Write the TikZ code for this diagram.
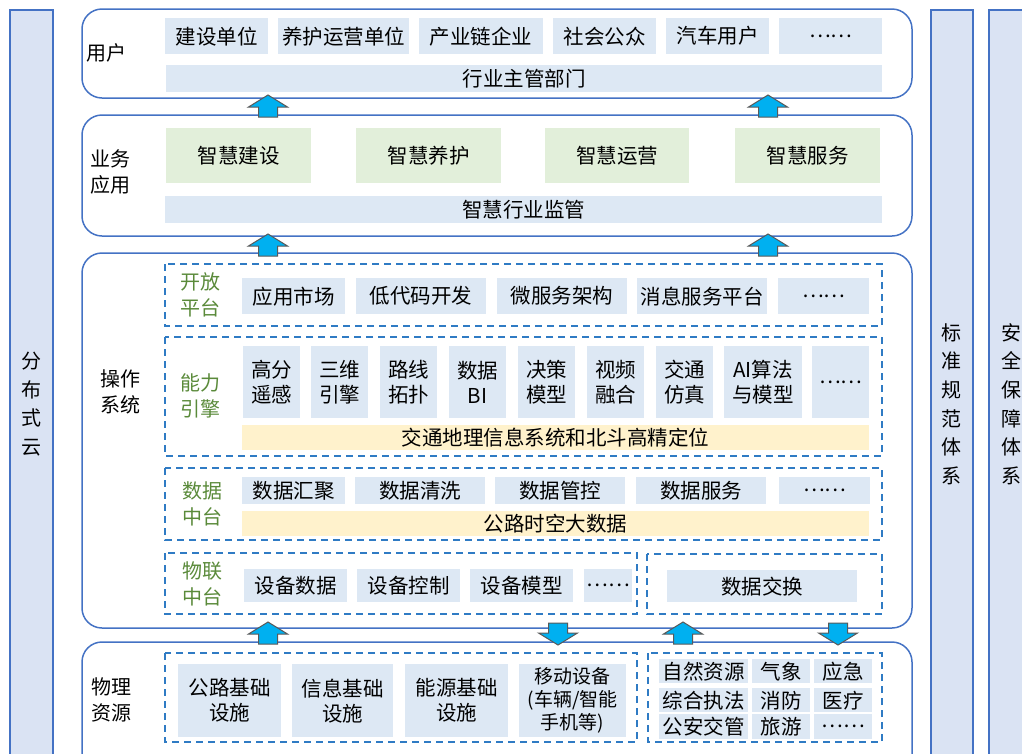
\documentclass[tikz,border=0pt]{standalone}
\usepackage{fontspec}
\setmainfont{Noto Sans CJK SC}
\definecolor{layerblue}{HTML}{4472C4}
\definecolor{sidefill}{HTML}{DAE3F3}
\definecolor{itemblue}{HTML}{DDE8F4}
\definecolor{itemgreen}{HTML}{E2EFDA}
\definecolor{itemyellow}{HTML}{FFF2CC}
\definecolor{dashblue}{HTML}{2F7BC4}
\definecolor{labelgreen}{HTML}{5A8A3A}
\definecolor{arrowfill}{HTML}{00B0F0}
\tikzset{
  layer/.style={draw=layerblue, line width=1.5pt, rounded corners=20pt},
  side/.style={draw=layerblue, line width=1.5pt, fill=sidefill},
  zone/.style={draw=dashblue, line width=1.5pt, dash pattern=on 7pt off 5pt},
  item/.style={fill=itemblue, inner sep=0pt, anchor=north west, align=center,
    font=\fontsize{20.5}{25}\selectfont},
  greenitem/.style={item, fill=itemgreen},
  yellowitem/.style={item, fill=itemyellow},
  layertext/.style={align=center, font=\fontsize{20}{26}\selectfont},
  zonetext/.style={layertext, text=labelgreen},
  sidetext/.style={align=center, font=\fontsize{20}{28.6}\selectfont},
  blockarrow/.style={draw=black!65, line width=1pt, fill=arrowfill}
}
\begin{document}
\begin{tikzpicture}[x=1pt, y=-1pt]
  \useasboundingbox (0,0) rectangle (1022,753);
  % side columns
  \draw[side] (10,10) rectangle (53,770);
  \draw[side] (931,10) rectangle (973,770);
  \draw[side] (989,10) rectangle (1040,770);
  \node[sidetext] (cloud) at (31,404) {分\\布\\式\\云};
  \node[sidetext] (std) at (951,404) {标\\准\\规\\范\\体\\系};
  \node[sidetext] (safe) at (1011,404) {安\\全\\保\\障\\体\\系};
  % layers
  \draw[layer] (82,9) rectangle (912,98);
  \draw[layer] (82,115) rectangle (912,236);
  \draw[layer] (82,253) rectangle (912,628);
  \draw[layer] (82,642) rectangle (912,790);
  \node[layertext] (user) at (106,53) {用户};
  \node[layertext] (biz) at (110,172) {业务\\应用};
  \node[layertext] (os) at (120,392) {操作\\系统};
  \node[layertext] (phys) at (111,700) {物理\\资源};
  % users
  \node[item, minimum width=103pt, minimum height=36pt] (u1) at (165,18) {建设单位};
  \node[item, minimum width=131pt, minimum height=36pt] (u2) at (278,18) {养护运营单位};
  \node[item, minimum width=124pt, minimum height=36pt] (u3) at (419,18) {产业链企业};
  \node[item, minimum width=103pt, minimum height=36pt] (u4) at (553,18) {社会公众};
  \node[item, minimum width=103pt, minimum height=36pt] (u5) at (666,18) {汽车用户};
  \node[item, minimum width=103pt, minimum height=36pt] (u6) at (779,18) {……};
  \node[item, minimum width=716pt, minimum height=27pt] (u7) at (166,65) {行业主管部门};
  % business
  \node[greenitem, minimum width=145pt, minimum height=55pt] (b1) at (166,128) {智慧建设};
  \node[greenitem, minimum width=145pt, minimum height=55pt] (b2) at (356,128) {智慧养护};
  \node[greenitem, minimum width=144pt, minimum height=55pt] (b3) at (545,128) {智慧运营};
  \node[greenitem, minimum width=145pt, minimum height=55pt] (b4) at (735,128) {智慧服务};
  \node[item, minimum width=717pt, minimum height=27pt] (b5) at (165,196) {智慧行业监管};
  % open platform
  \draw[zone] (165,264) rectangle (882,326);
  \node[zonetext] (open) at (200,295) {开放\\平台};
  \node[item, minimum width=103pt, minimum height=36pt] (o1) at (242,278) {应用市场};
  \node[item, minimum width=130pt, minimum height=36pt] (o2) at (356,278) {低代码开发};
  \node[item, minimum width=130pt, minimum height=36pt] (o3) at (497,278) {微服务架构};
  \node[item, minimum width=130pt, minimum height=36pt] (o4) at (637,278) {消息服务平台};
  \node[item, minimum width=91pt, minimum height=36pt] (o5) at (778,278) {……};
  % engines
  \draw[zone] (165,337) rectangle (882,456);
  \node[zonetext] (engine) at (200,396) {能力\\引擎};
  \node[item, minimum width=57pt, minimum height=72pt] (e1) at (243,346) {高分\\遥感};
  \node[item, minimum width=57pt, minimum height=72pt] (e2) at (311,346) {三维\\引擎};
  \node[item, minimum width=57pt, minimum height=72pt] (e3) at (380,346) {路线\\拓扑};
  \node[item, minimum width=57pt, minimum height=72pt] (e4) at (449,346) {数据\\BI};
  \node[item, minimum width=57pt, minimum height=72pt] (e5) at (518,346) {决策\\模型};
  \node[item, minimum width=57pt, minimum height=72pt] (e6) at (587,346) {视频\\融合};
  \node[item, minimum width=57pt, minimum height=72pt] (e7) at (656,346) {交通\\仿真};
  \node[item, minimum width=78pt, minimum height=72pt] (e8) at (724,346) {AI算法\\与模型};
  \node[item, minimum width=57pt, minimum height=72pt] (e9) at (812,346) {……};
  \node[yellowitem, minimum width=627pt, minimum height=25pt] (e10) at (242,425) {交通地理信息系统和北斗高精定位};
  % data platform
  \draw[zone] (165,468) rectangle (882,540);
  \node[zonetext] (data) at (202,504) {数据\\中台};
  \node[item, minimum width=103pt, minimum height=27pt] (d1) at (242,477) {数据汇聚};
  \node[item, minimum width=130pt, minimum height=27pt] (d2) at (355,477) {数据清洗};
  \node[item, minimum width=130pt, minimum height=27pt] (d3) at (495,477) {数据管控};
  \node[item, minimum width=130pt, minimum height=27pt] (d4) at (636,477) {数据服务};
  \node[item, minimum width=91pt, minimum height=27pt] (d5) at (779,477) {……};
  \node[yellowitem, minimum width=627pt, minimum height=25pt] (d6) at (242,511) {公路时空大数据};
  % iot platform
  \draw[zone] (165,553) rectangle (637,614);
  \node[zonetext] (iot) at (202,584) {物联\\中台};
  \node[item, minimum width=103pt, minimum height=33pt] (i1) at (244,569) {设备数据};
  \node[item, minimum width=103pt, minimum height=33pt] (i2) at (357,569) {设备控制};
  \node[item, minimum width=103pt, minimum height=33pt] (i3) at (470,569) {设备模型};
  \node[item, minimum width=48pt, minimum height=33pt] (i4) at (584,569) {……};
  \draw[zone] (647,554) rectangle (882,614);
  \node[item, minimum width=190pt, minimum height=32pt] (x1) at (667,570) {数据交换};
  % physical resources
  \draw[zone] (165,653) rectangle (637,742);
  \node[item, minimum width=103pt, minimum height=73pt] (p1) at (178,664) {公路基础\\设施};
  \node[item, minimum width=101pt, minimum height=73pt] (p2) at (292,664) {信息基础\\设施};
  \node[item, minimum width=103pt, minimum height=73pt] (p3) at (405,664) {能源基础\\设施};
  \node[item, minimum width=107pt, minimum height=73pt, font=\fontsize{19}{23}\selectfont] (p4) at (519,664) {移动设备\\(车辆/智能\\手机等)};
  \draw[zone] (648,653) rectangle (882,742);
  \node[item, minimum width=89pt, minimum height=24pt] (s1) at (659,659) {自然资源};
  \node[item, minimum width=58pt, minimum height=24pt] (s2) at (752,659) {气象};
  \node[item, minimum width=58pt, minimum height=24pt] (s3) at (814,659) {应急};
  \node[item, minimum width=89pt, minimum height=24pt] (s4) at (659,688) {综合执法};
  \node[item, minimum width=58pt, minimum height=24pt] (s5) at (752,688) {消防};
  \node[item, minimum width=58pt, minimum height=24pt] (s6) at (814,688) {医疗};
  \node[item, minimum width=89pt, minimum height=25pt] (s7) at (659,714) {公安交管};
  \node[item, minimum width=58pt, minimum height=25pt] (s8) at (752,714) {旅游};
  \node[item, minimum width=58pt, minimum height=25pt] (s9) at (814,714) {……};
  % block arrows between layers
  \foreach \cx/\ty in {268/95, 768/95, 268/234, 768/234, 268/622, 683/622}
    \draw[blockarrow] (\cx,\ty) -- ++(19.5,12) -- ++(-10,0) -- ++(0,10)
      -- ++(-19,0) -- ++(0,-10) -- ++(-10,0) -- cycle;
  \foreach \cx/\ty in {558/645, 838/645}
    \draw[blockarrow] (\cx,\ty) -- ++(19.5,-12) -- ++(-10,0) -- ++(0,-10)
      -- ++(-19,0) -- ++(0,10) -- ++(-10,0) -- cycle;
\end{tikzpicture}
\end{document}
